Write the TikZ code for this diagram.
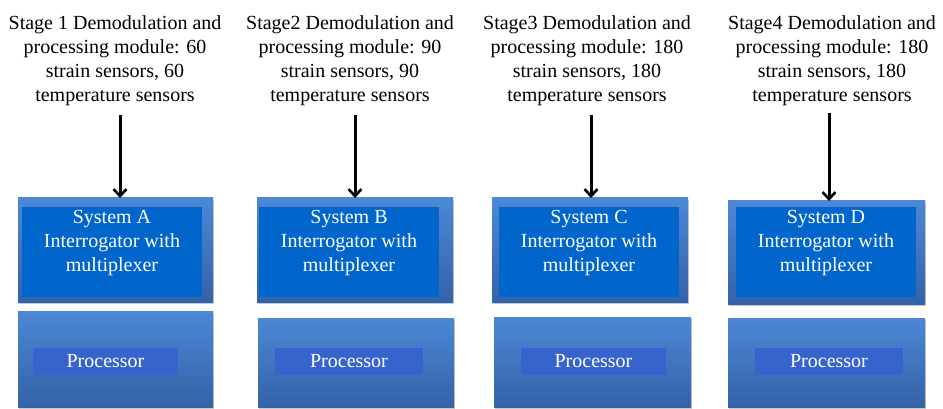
\documentclass[tikz,border=0pt]{standalone}
\usepackage{fontspec}
\newfontfamily\tnr{Liberation Serif}
\usetikzlibrary{arrows.meta,shadows}
\definecolor{outtop}{RGB}{76,136,214}
\definecolor{outbot}{RGB}{52,98,168}
\definecolor{innerblue}{RGB}{0,102,204}
\definecolor{proclab}{RGB}{54,100,204}
\tikzset{
  outerbox/.style={rectangle, inner sep=0pt, outer sep=0pt, top color=outtop, bottom color=outbot, draw=none,
     drop shadow={shadow xshift=1pt, shadow yshift=-2pt, opacity=0.35, fill=black!60}},
  innerbox/.style={rectangle, inner sep=0pt, outer sep=0pt, fill=innerblue, draw=none},
  proclabel/.style={rectangle, inner sep=0pt, outer sep=0pt, fill=proclab, draw=none, text=white,
     font=\tnr\fontsize{20}{24}\selectfont},
  boxtext/.style={align=center, text=white, inner sep=0pt, font=\tnr\fontsize{20}{24}\selectfont},
  headtext/.style={align=center, text=black, inner sep=0pt, font=\tnr\fontsize{20}{24}\selectfont},
  arr/.style={line width=3pt, -{Straight Barb[length=7pt,width=13pt,line width=2.6pt]}}
}
\begin{document}
\begin{tikzpicture}[x=1pt,y=-1pt]
\useasboundingbox[fill=white] (0,0) rectangle (943,409);

% Column A
\node[headtext] (hA) at (115,61) {Stage 1 Demodulation and\\processing module: 60\\strain sensors, 60\\temperature sensors};
\node[outerbox, minimum width=195pt, minimum height=104pt] (oA) at (115.5,250) {};
\node[innerbox, minimum width=180pt, minimum height=90pt] (iA) at (112,252) {};
\node[boxtext] (lA) at (112,243) {System A\\Interrogator with\\multiplexer};
\node[outerbox, minimum width=195pt, minimum height=96pt] (pA) at (115.5,359) {};
\node[proclabel, minimum width=145pt, minimum height=27pt] (qA) at (105.5,361.5) {Processor};
\coordinate (sA) at (120,115);
\draw[arr] (sA) -- (sA |- oA.north);

% Column B
\node[headtext] (hB) at (350,61) {Stage2 Demodulation and\\processing module: 90\\strain sensors, 90\\temperature sensors};
\node[outerbox, minimum width=196pt, minimum height=104pt] (oB) at (355,250) {};
\node[innerbox, minimum width=180pt, minimum height=90pt] (iB) at (349,252) {};
\node[boxtext] (lB) at (349,243) {System B\\Interrogator with\\multiplexer};
\node[outerbox, minimum width=196pt, minimum height=89pt] (pB) at (356,362.5) {};
\node[proclabel, minimum width=148pt, minimum height=27pt] (qB) at (349,361.5) {Processor};
\coordinate (sB) at (355,115);
\draw[arr] (sB) -- (sB |- oB.north);

% Column C
\node[headtext] (hC) at (587,61) {Stage3 Demodulation and\\processing module: 180\\strain sensors, 180\\temperature sensors};
\node[outerbox, minimum width=196pt, minimum height=104pt] (oC) at (590,250) {};
\node[innerbox, minimum width=180pt, minimum height=90pt] (iC) at (589,252) {};
\node[boxtext] (lC) at (589,243) {System C\\Interrogator with\\multiplexer};
\node[outerbox, minimum width=197pt, minimum height=90pt] (pC) at (592.5,362) {};
\node[proclabel, minimum width=145pt, minimum height=27pt] (qC) at (593.5,361.5) {Processor};
\coordinate (sC) at (591,115);
\draw[arr] (sC) -- (sC |- oC.north);

% Column D
\node[headtext] (hD) at (832,61) {Stage4 Demodulation and\\processing module: 180\\strain sensors, 180\\temperature sensors};
\node[outerbox, minimum width=197pt, minimum height=103pt] (oD) at (826.5,252.5) {};
\node[innerbox, minimum width=180pt, minimum height=90pt] (iD) at (826,252) {};
\node[boxtext] (lD) at (826,243) {System D\\Interrogator with\\multiplexer};
\node[outerbox, minimum width=197pt, minimum height=89pt] (pD) at (826.5,362.5) {};
\node[proclabel, minimum width=148pt, minimum height=27pt] (qD) at (829,361.5) {Processor};
\coordinate (sD) at (829,113);
\draw[arr] (sD) -- (sD |- oD.north);
\end{tikzpicture}
\end{document}
